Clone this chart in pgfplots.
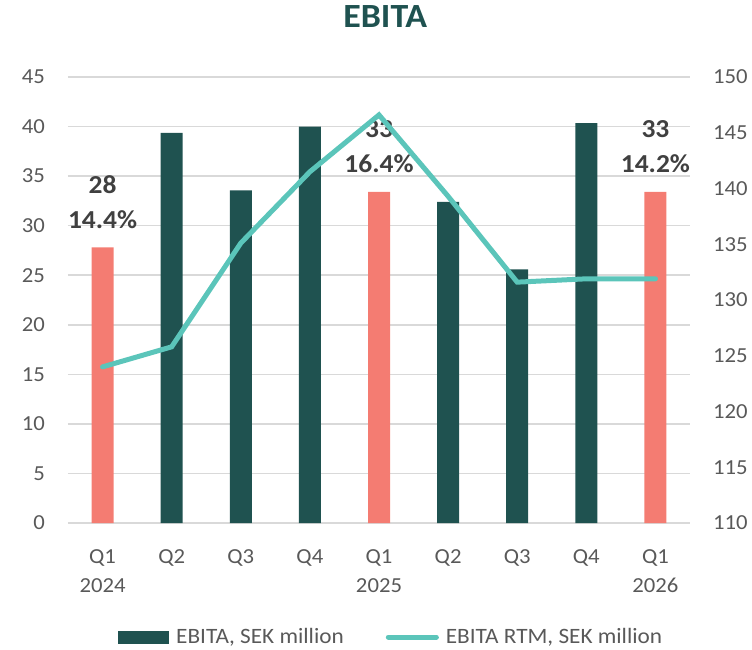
\documentclass[border=0pt]{standalone}
\usepackage{fontspec}
\setmainfont{Carlito}[FakeStretch=1.06]
\usepackage{pgfplots}
\pgfplotsset{compat=1.18}
\definecolor{darkbar}{HTML}{1F5250}
\definecolor{salmonbar}{HTML}{F47C72}
\definecolor{lineteal}{HTML}{5BC5BA}
\definecolor{gridgray}{HTML}{D9D9D9}
\definecolor{ticktext}{HTML}{595959}
\definecolor{labeltext}{HTML}{404040}
\begin{document}
\begin{tikzpicture}[x=1bp,y=1bp]
\useasboundingbox (-68,-127) rectangle (684,523);
\begin{axis}[
  at={(0,0)}, anchor=south west, scale only axis,
  width=622bp, height=446bp,
  xmin=-0.5, xmax=8.5, ymin=0, ymax=45,
  xtick={0,...,8},
  xticklabels={{Q1\\2024},Q2,Q3,Q4,{Q1\\2025},Q2,Q3,Q4,{Q1\\2026}},
  ytick={0,5,...,45},
  ymajorgrids, grid style={gridgray, line width=1.5bp},
  axis line style={draw=none}, tick style={draw=none}, major tick length=0pt,
  /pgf/number format/assume math mode=true,
  tick label style={font=\fontsize{21.5}{30}\selectfont, text=ticktext},
  xticklabel style={align=center, anchor=north, inner sep=0pt, yshift=-26bp},
  yticklabel style={anchor=east, inner sep=0pt, xshift=-23bp},
  ybar, bar width=22bp, bar shift=0pt,
  title={EBITA},
  title style={at={(0.51,1)}, anchor=base, yshift=44bp, font=\fontsize{34}{40}\selectfont\bfseries, text=darkbar},
  legend columns=2,
  legend style={at={(axis description cs:0.518,-0.2556)}, anchor=center, draw=none, fill=none,
    font=\fontsize{22}{26}\selectfont, text=ticktext, nodes={inner sep=0pt},
    /tikz/every odd column/.append style={column sep=7bp},
    /tikz/every even column/.append style={column sep=42bp}},
]
\addplot[fill=salmonbar, draw=none, forget plot,
  nodes near coords, point meta=explicit symbolic,
  every node near coord/.style={font=\fontsize{26}{35}\selectfont\bfseries, text=labeltext, align=center, anchor=south, inner sep=0pt, yshift=19bp}]
  coordinates {(0,27.8) [28\\14.4\%] (4,33.4) [33\\16.4\%] (8,33.4) [33\\14.2\%]};
\addplot[fill=darkbar, draw=none,
  legend image code/.code={\fill[darkbar] (0bp,-6.5bp) rectangle (51bp,6.5bp);}]
  coordinates {(1,39.35) (2,33.55) (3,40.0) (5,32.4) (6,25.6) (7,40.35)};
\addlegendentry{EBITA, SEK million}
\addlegendimage{legend image code/.code={\draw[lineteal, line width=5bp, line cap=round] (2.5bp,0bp) -- (50.5bp,0bp);}}
\addlegendentry{EBITA RTM, SEK million}
\end{axis}
\begin{axis}[
  at={(0,0)}, anchor=south west, scale only axis,
  width=622bp, height=446bp,
  xmin=-0.5, xmax=8.5, ymin=110, ymax=150,
  axis x line=none, axis y line*=right,
  axis line style={draw=none}, tick style={draw=none}, major tick length=0pt,
  ytick={110,115,...,150},
  /pgf/number format/assume math mode=true,
  tick label style={font=\fontsize{21.5}{30}\selectfont, text=ticktext},
  yticklabel style={anchor=west, inner sep=0pt, xshift=23bp},
]
\addplot[lineteal, line width=5bp, line cap=round, line join=miter, mark=none]
  coordinates {(0,124.0) (1,125.8) (2,135.1) (3,141.5) (4,146.6) (5,139.3) (6,131.6) (7,131.9) (8,131.9)};
\end{axis}
\end{tikzpicture}
\end{document}
